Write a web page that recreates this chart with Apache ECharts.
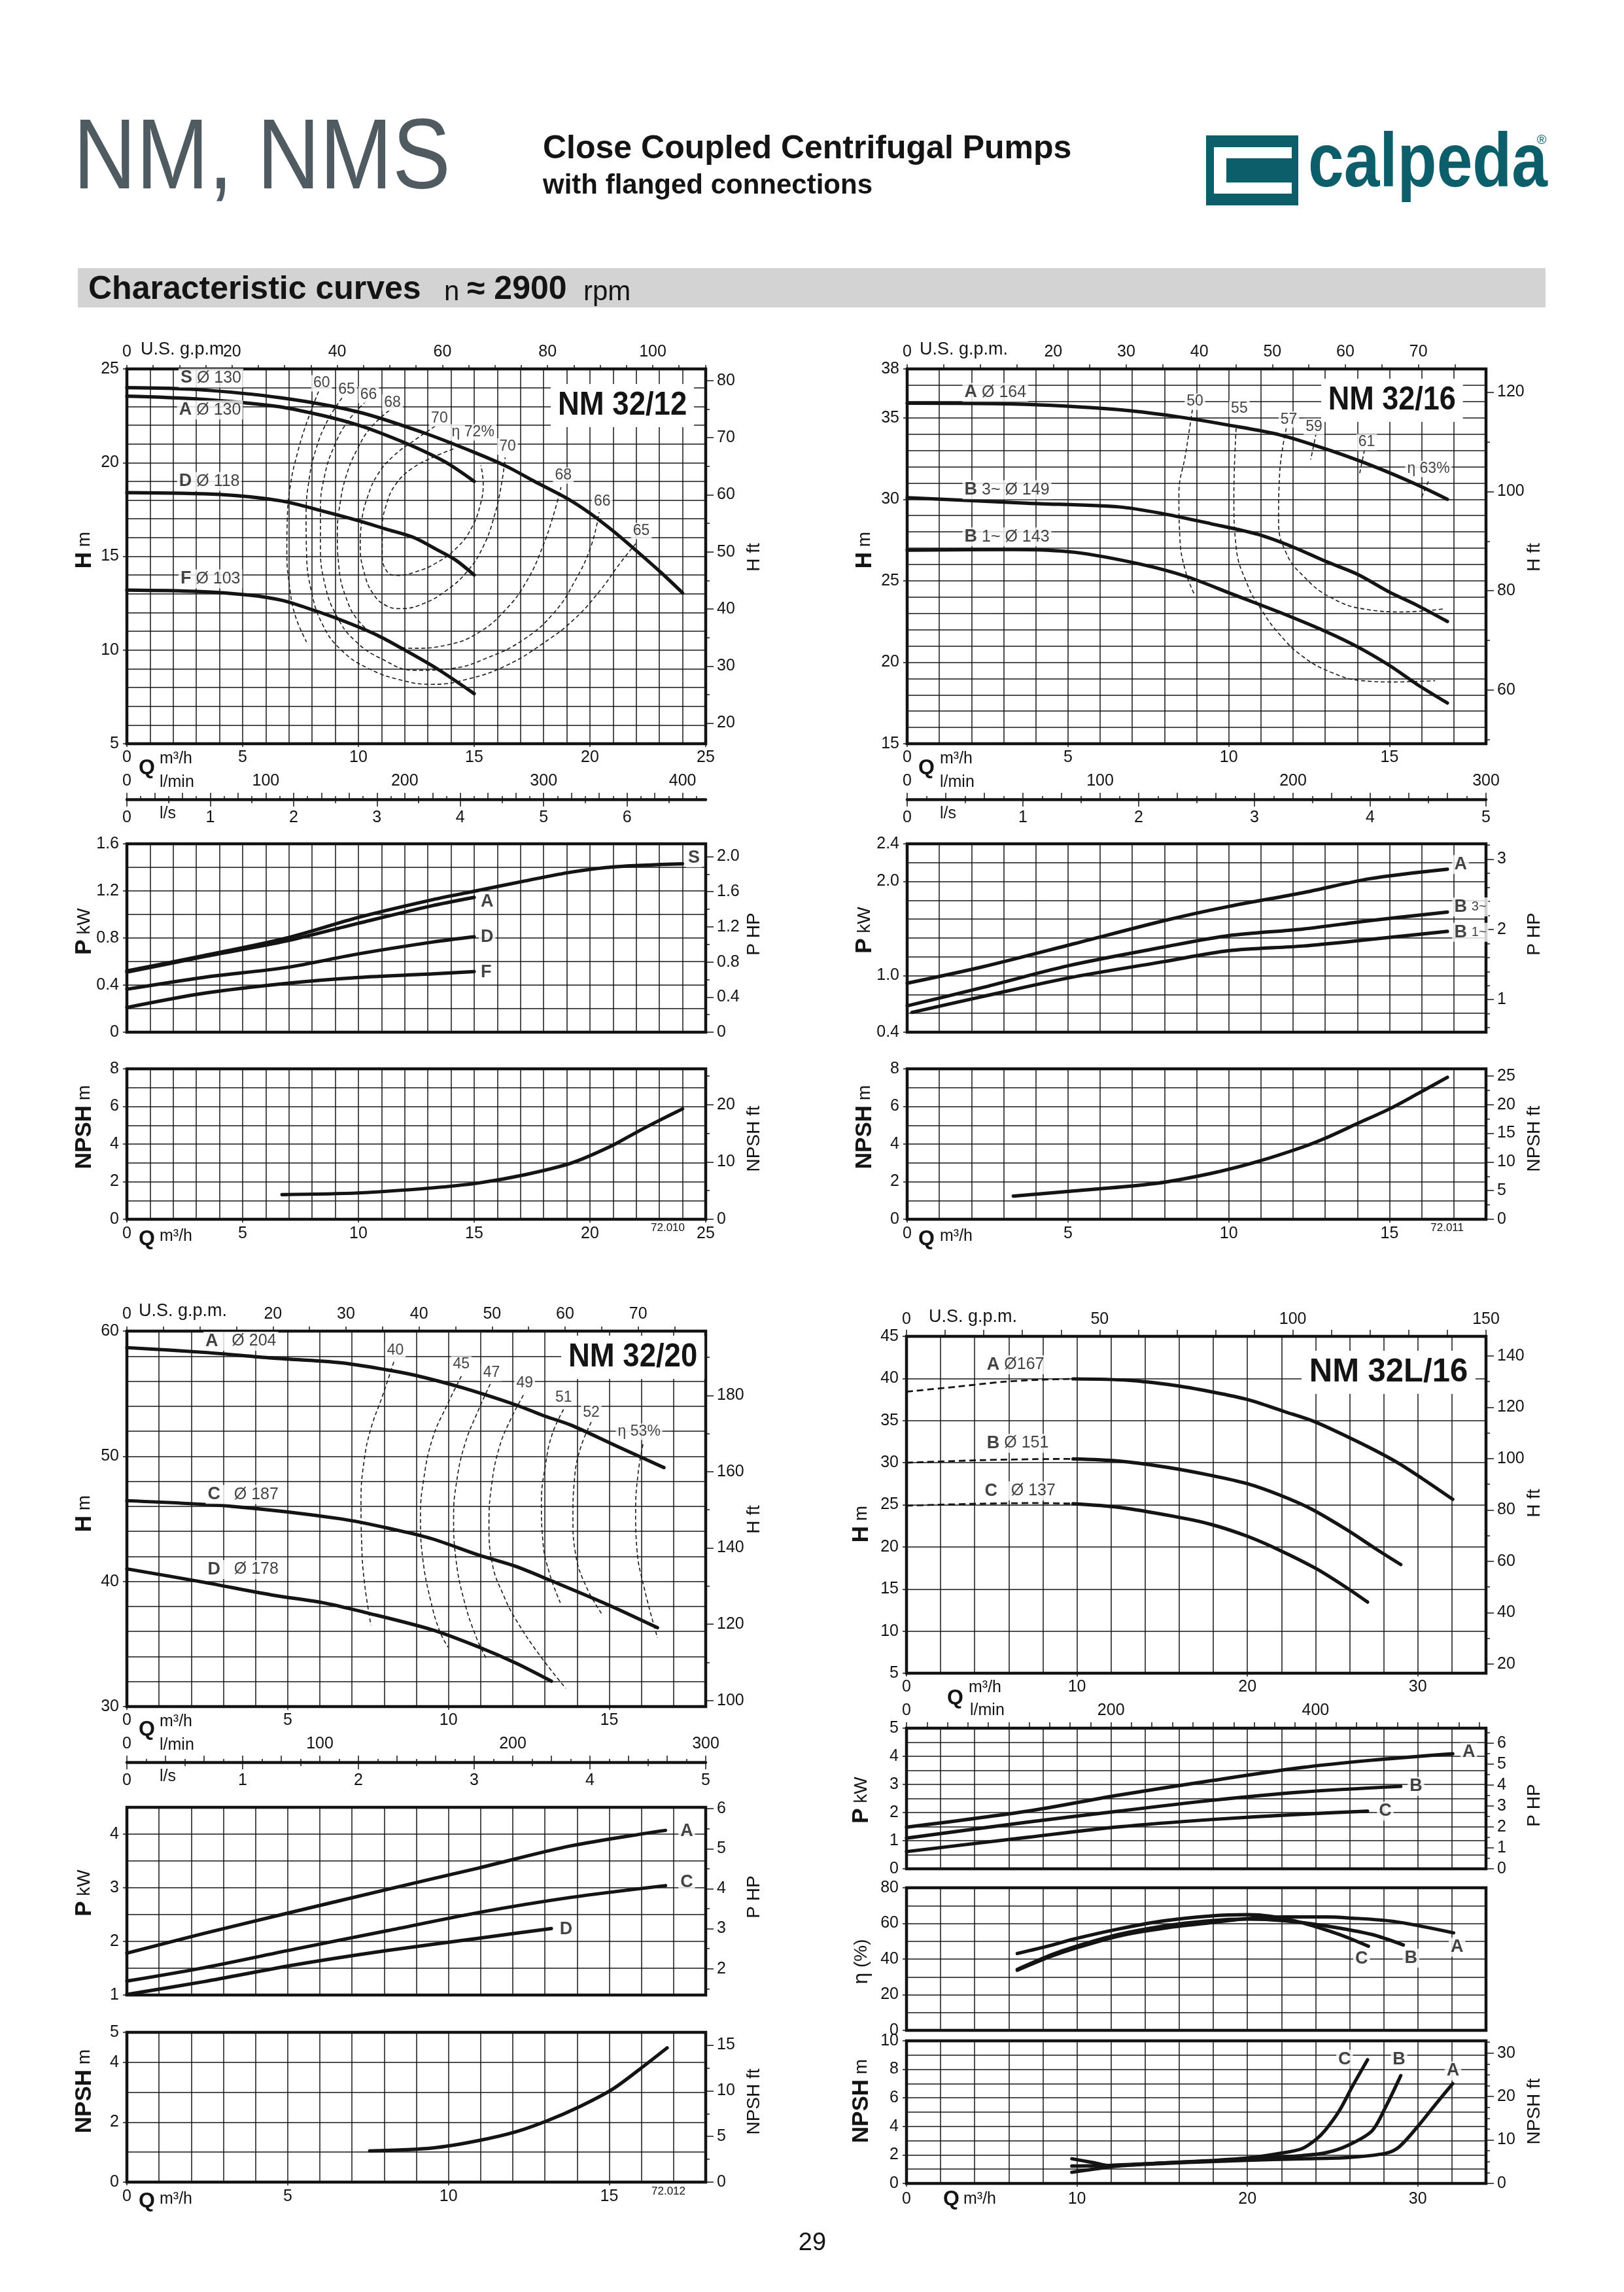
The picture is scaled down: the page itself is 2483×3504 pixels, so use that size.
<!DOCTYPE html>
<html>
<head>
<meta charset="utf-8">
<title>NM, NMS – Characteristic curves</title>
<script src="https://cdn.jsdelivr.net/npm/echarts@6.0.0/dist/echarts.min.js"></script>
<style>
html,body{margin:0;padding:0;background:#ffffff;}
#chart{width:2483px;height:3504px;}
</style>
</head>
<body>
<div id="chart"></div>
<script>
/* ================= DATA : NM 32/12 ================= */
const nm3212_H_S = [[0,24.0],[3,23.9],[6.7,23.45],[10,22.7],[12.8,21.6],[15,20.55],[16.4,19.8],[17.6,19.0],[19,18.1],[20,17.3],[21,16.35],[22,15.3],[23.1,14.1],[24,13.05]];
const nm3212_H_A = [[0,23.55],[3,23.4],[6.5,23.0],[8.5,22.5],[10,22.0],[11,21.56],[12.4,20.85],[13.8,20.0],[15,19.0]];
const nm3212_H_D = [[0,18.4],[4,18.3],[6.7,17.95],[8.5,17.4],[10,16.9],[11.2,16.45],[12.4,16.0],[13.4,15.35],[14.2,14.8],[15,14.0]];
const nm3212_H_F = [[0,13.2],[3,13.13],[5.3,12.93],[6.7,12.65],[8,12.15],[9.25,11.6],[10.8,10.8],[12,10.0],[13.4,9.0],[15,7.67]];
const nm3212_eta72 = [[14.10,20.73],[13.21,20.28],[12.32,19.69],[11.62,18.86],[11.23,17.85],[11.03,16.52],[11.03,15.18],[11.19,14.27],[11.62,13.98],[12.42,14.15],[13.41,14.68],[14.30,15.52],[14.89,16.52],[15.25,17.69],[15.39,18.86],[15.29,19.86]];
const nm3212_eta70 = [[13.31,21.94],[12.42,21.19],[11.52,20.36],[10.83,19.36],[10.40,18.19],[10.14,16.85],[10.08,15.52],[10.24,14.18],[10.63,13.01],[11.23,12.35],[11.82,12.21],[12.81,12.48],[13.80,13.18],[14.69,14.18],[15.39,15.52],[15.88,17.19],[16.18,18.86],[16.34,20.28]];
const nm3212_eta68 = [[11.33,22.78],[10.53,21.86],[9.94,20.69],[9.49,19.36],[9.21,17.85],[9.09,16.19],[9.15,14.52],[9.45,12.85],[10.04,11.51],[11.03,10.59],[12.32,10.09],[13.80,10.26],[15.19,10.93],[16.38,12.18],[17.27,13.68],[17.96,15.52],[18.46,17.35],[18.75,18.69]];
const nm3212_eta66 = [[10.34,23.28],[9.54,22.20],[8.95,20.86],[8.55,19.36],[8.36,17.52],[8.36,15.52],[8.55,13.51],[9.05,11.84],[9.84,10.51],[11.03,9.51],[12.42,8.92],[14.0,9.01],[15.58,9.59],[17.17,10.59],[18.46,12.01],[19.35,13.68],[20.04,15.52],[20.40,17.35]];
const nm3212_eta65 = [[9.29,23.45],[8.65,22.20],[8.16,20.69],[7.86,19.02],[7.74,17.19],[7.76,15.18],[7.96,13.18],[8.46,11.34],[9.25,10.01],[10.44,9.01],[12.02,8.34],[13.21,8.17],[14.79,8.47],[16.38,9.17],[17.96,10.34],[19.35,11.68],[20.44,13.18],[21.33,14.68],[21.98,15.68]];
const nm3212_eta60 = [[8.28,23.8],[7.76,22.11],[7.37,20.53],[7.07,18.86],[6.93,17.02],[6.91,15.18],[7.03,13.35],[7.27,11.84],[7.76,10.43]];
const nm3212_P_S = [[0,0.52],[3.3,0.65],[6.9,0.80],[10,0.975],[13.2,1.125],[15.2,1.205],[17.2,1.285],[19.2,1.36],[21.1,1.405],[24,1.43]];
const nm3212_P_A = [[0,0.51],[3.3,0.64],[6.9,0.775],[10,0.925],[13.2,1.075],[15,1.145]];
const nm3212_P_D = [[0,0.365],[3.3,0.465],[6.9,0.55],[10,0.665],[13.2,0.765],[15,0.81]];
const nm3212_P_F = [[0,0.21],[3.3,0.33],[6.9,0.415],[10,0.465],[13.2,0.495],[15,0.515]];
const nm3212_NPSH = [[6.7,1.31],[10,1.40],[13.2,1.67],[15.2,1.93],[17.2,2.37],[19.2,2.99],[20.9,3.88],[22,4.62],[23.1,5.32],[24,5.87]];
const nm3212_qTicks = [0,5,10,15,20,25];
const nm3212_hTicks = [5,10,15,20,25];
const nm3212_ftTicks = [20,30,40,50,60,70,80];
const nm3212_gpmTicks = [0,20,40,60,80,100];
const nm3212_lminTicks = [0,100,200,300,400];
const nm3212_lsTicks = [0,1,2,3,4,5,6];
const nm3212_pTicks = [0,0.4,0.8,1.2,1.6];
const nm3212_hpTicks = [0,0.4,0.8,1.2,1.6,2.0];
const nm3212_nTicks = [0,2,4,6,8];
const nm3212_nftTicks = [0,10,20];
const nm3212_curveTags = [[2.23,24.51,'S','Ø 130'],[2.17,22.81,'A','Ø 130'],[2.17,19.0,'D','Ø 118'],[2.23,13.8,'F','Ø 103']];
const nm3212_etaTags = [[8.41,24.23,'60'],[9.49,23.9,'65'],[10.44,23.61,'66'],[11.47,23.2,'68'],[13.5,22.36,'70'],[14.95,21.61,'η 72%'],[16.44,20.86,'70'],[18.85,19.31,'68'],[20.53,17.94,'66'],[22.22,16.35,'65']];
const nm3212_pTags = [[24.15,1.48,'S',''],[15.2,1.11,'A',''],[15.2,0.81,'D',''],[15.2,0.51,'F','']];

/* ================= DATA : NM 32/16 ================= */
const nm3216_H_A = [[0,35.9],[3.3,35.85],[6.6,35.5],[8.3,35.1],[10,34.55],[11.6,33.95],[13.15,33.0],[14.6,31.95],[15.85,30.9],[16.8,30.0]];
const nm3216_H_B3 = [[0,30.1],[3.75,29.76],[6.6,29.53],[8,29.1],[9.45,28.5],[10.9,27.85],[12,27.07],[13,26.2],[14,25.4],[15,24.3],[15.85,23.5],[16.8,22.5]];
const nm3216_H_B1 = [[0,26.88],[3.3,26.92],[5.2,26.75],[7.3,26.0],[8.7,25.25],[10.15,24.15],[11.6,23.05],[13,21.9],[14,20.95],[15,19.8],[15.85,18.65],[16.8,17.5]];
const nm3216_eta50 = [[8.87,35.5],[8.66,32.8],[8.45,30.3],[8.48,27.65],[8.66,25.55],[8.95,24.1]];
const nm3216_eta55 = [[10.23,34.36],[10.16,30.14],[10.23,27.07],[10.58,24.77],[11.01,23.24],[11.58,21.71],[12.29,20.37],[13.15,19.41],[14.15,18.87],[15.14,18.79],[16.42,18.87]];
const nm3216_eta57 = [[11.79,34.36],[11.58,31.48],[11.55,28.61],[11.79,26.69],[12.29,25.35],[13.15,24.0],[14.29,23.24],[15.43,23.09],[16.71,23.28]];
const nm3216_eta59 = [[12.72,34.07],[12.55,32.44]];
const nm3216_eta61 = [[14.22,33.02],[14.07,31.58]];
const nm3216_eta63 = [[16.21,31.1],[16.0,30.14]];
const nm3216_P_A = [[0,0.92],[2.3,1.09],[5.2,1.34],[8,1.585],[10,1.735],[12.3,1.88],[14.4,2.03],[16.8,2.13]];
const nm3216_P_B3 = [[0,0.68],[2.3,0.87],[5,1.105],[8,1.305],[10,1.425],[12.3,1.495],[14.4,1.585],[16.8,1.675]];
const nm3216_P_B1 = [[0.15,0.61],[2.3,0.775],[5,0.975],[8,1.15],[10,1.265],[12.3,1.315],[14.4,1.385],[16.8,1.47]];
const nm3216_NPSH = [[3.3,1.23],[5.2,1.51],[7.7,1.9],[9.45,2.44],[10.9,3.07],[12.3,3.84],[13,4.31],[14,5.09],[15,5.87],[15.85,6.65],[16.8,7.55]];
const nm3216_qTicks = [0,5,10,15];
const nm3216_hTicks = [15,20,25,30,35,38];
const nm3216_ftTicks = [60,80,100,120];
const nm3216_gpmTicks = [0,20,30,40,50,60,70];
const nm3216_lminTicks = [0,100,200,300];
const nm3216_lsTicks = [0,1,2,3,4,5];
const nm3216_pTicks = [0.4,1.0,2.0,2.4];
const nm3216_hpTicks = [1,2,3];
const nm3216_nTicks = [0,2,4,6,8];
const nm3216_nftTicks = [0,5,10,15,20,25];
const nm3216_curveTags = [[1.72,36.56,'A','Ø 164'],[1.72,30.58,'B','3~ Ø 149'],[1.72,27.69,'B','1~ Ø 143']];
const nm3216_etaTags = [[8.95,35.99,'50'],[10.33,35.55,'55'],[11.87,34.9,'57'],[12.65,34.46,'59'],[14.29,33.5,'61'],[16.21,31.87,'η 63%']];
const nm3216_pTags = [[16.95,2.18,'A',''],[16.95,1.73,'B','3~'],[16.95,1.46,'B','1~']];

/* ================= DATA : NM 32/20 ================= */
const nm3220_H_A = [[0,58.68],[2.4,58.3],[4.5,57.85],[6.65,57.47],[8.1,56.9],[8.95,56.48],[10.4,55.5],[12.1,54.1],[12.95,53.25],[13.8,52.5],[15.2,50.85],[16.7,49.1]];
const nm3220_H_C = [[0,46.45],[3.25,46.0],[6.65,45.0],[8.4,44.1],[9.5,43.4],[10.95,42.1],[12.1,41.2],[13.2,40.05],[14.95,38.15],[16.5,36.3]];
const nm3220_H_D = [[0,41.0],[2.4,39.93],[4.5,38.92],[6.1,38.3],[7.4,37.53],[9.5,36.13],[10.95,34.75],[12.1,33.47],[13.2,32.03]];
const nm3220_eta40 = [[8.30,57.54],[7.94,54.76],[7.59,52.22],[7.38,49.69],[7.28,46.39],[7.3,43.1],[7.38,40.06],[7.59,36.51]];
const nm3220_eta45 = [[10.4,56.4],[9.94,54.0],[9.51,51.46],[9.23,48.17],[9.13,45.13],[9.2,41.83],[9.44,38.54],[9.73,36.01],[9.99,34.74]];
const nm3220_eta47 = [[11.3,55.77],[10.94,53.74],[10.51,50.96],[10.25,47.91],[10.16,45.13],[10.23,41.83],[10.48,38.54],[10.87,35.5],[11.2,33.73]];
const nm3220_eta49 = [[12.33,54.88],[11.94,52.98],[11.58,50.7],[11.34,47.66],[11.26,44.62],[11.37,41.33],[11.73,38.79],[12.08,37.02],[12.8,34.23],[13.65,31.45]];
const nm3220_eta51 = [[13.58,53.74],[13.22,51.72],[13.01,49.18],[12.89,46.39],[12.94,43.1],[13.15,40.57],[13.48,38.29]];
const nm3220_eta52 = [[14.44,52.73],[14.08,50.45],[13.91,47.91],[13.87,45.13],[13.96,42.09],[14.29,39.55],[14.77,37.4]];
const nm3220_eta53 = [[16.05,50.96],[15.9,48.67],[15.82,45.63],[15.86,42.59],[16.08,39.55],[16.5,35.5]];
const nm3220_P_A = [[0,1.78],[2.4,2.15],[4.95,2.52],[8.1,2.97],[10.95,3.37],[13.8,3.78],[16.75,4.07]];
const nm3220_P_C = [[0,1.26],[2.4,1.51],[5.25,1.86],[8.1,2.2],[10.95,2.54],[13.8,2.82],[16.75,3.04]];
const nm3220_P_D = [[0,1.01],[2.4,1.25],[5.25,1.565],[8.1,1.83],[10.95,2.06],[13.2,2.24]];
const nm3220_NPSH = [[7.55,1.04],[9.5,1.14],[10.95,1.39],[12.1,1.68],[13.1,2.06],[14.1,2.53],[15.1,3.1],[15.95,3.77],[16.8,4.48]];
const nm3220_qTicks = [0,5,10,15];
const nm3220_hTicks = [30,40,50,60];
const nm3220_ftTicks = [100,120,140,160,180];
const nm3220_gpmTicks = [0,20,30,40,50,60,70];
const nm3220_lminTicks = [0,100,200,300];
const nm3220_lsTicks = [0,1,2,3,4,5];
const nm3220_pTicks = [1,2,3,4];
const nm3220_hpTicks = [2,3,4,5,6];
const nm3220_nTicks = [0,2,4,5];
const nm3220_nftTicks = [0,5,10,15];
const nm3220_curveTags = [[2.38,59.19,'A','  Ø 204'],[2.45,46.95,'C','  Ø 187'],[2.45,40.95,'D','  Ø 178']];
const nm3220_etaTags = [[8.35,58.43,'40'],[10.4,57.34,'45'],[11.34,56.66,'47'],[12.37,55.82,'49'],[13.58,54.68,'51'],[14.44,53.49,'52'],[15.93,51.97,'η 53%']];
const nm3220_pTags = [[17.15,4.05,'A',''],[17.15,3.1,'C',''],[13.4,2.23,'D','']];

/* ================= DATA : NM 32L/16 ================= */
const nm32L16_H_A = [[9.77,39.95],[13,39.78],[15.7,39.18],[17.85,38.43],[20,37.5],[22.15,36.08],[23.9,34.9],[25.9,33.05],[27.55,31.4],[28.9,29.9],[30.2,28.2],[32.05,25.65]];
const nm32L16_Hd_A = [[0,38.43],[3.04,39.04],[5.73,39.61],[7.89,39.85],[9.77,39.95]];
const nm32L16_H_B = [[9.77,30.45],[12.45,30.2],[15.15,29.5],[17.85,28.5],[20,27.5],[21.9,26.15],[23.8,24.45],[25.9,21.95],[27.55,19.75],[29,17.9]];
const nm32L16_Hd_B = [[0,30.0],[4.4,30.3],[7.6,30.42],[9.77,30.45]];
const nm32L16_H_C = [[9.77,25.13],[12.45,24.7],[15.7,23.62],[17.85,22.68],[20,21.26],[21.9,19.6],[24.05,17.4],[25.9,15.05],[27.05,13.45]];
const nm32L16_Hd_C = [[0,24.9],[4.4,25.13],[7.6,25.2],[9.77,25.13]];
const nm32L16_P_A = [[0,1.48],[7.1,2.05],[12.45,2.62],[17.85,3.13],[23.2,3.6],[27.3,3.86],[32.05,4.09]];
const nm32L16_P_B = [[0,1.09],[7.1,1.66],[12.45,2.05],[17.85,2.43],[23.2,2.73],[29,2.93]];
const nm32L16_P_C = [[0,0.61],[7.1,1.12],[12.45,1.49],[17.85,1.75],[23.2,1.94],[27.05,2.05]];
const nm32L16_E_A = [[6.5,33.7],[8.45,41.4],[9.8,45.8],[12.45,52.9],[15.15,57.4],[17.85,60.4],[20,62.7],[22.15,63.6],[24.6,63.6],[25.9,63.1],[28.6,61.1],[32.1,54.7]];
const nm32L16_E_B = [[6.5,34.2],[8.45,42.2],[9.8,46.7],[12.45,53.8],[15.15,58.6],[17.85,61.5],[20,62.4],[22.15,61.5],[24.6,58.6],[27.3,53.8],[29.15,47.9]];
const nm32L16_E_C = [[6.5,43.1],[8.45,47.6],[9.8,51.2],[12.45,56.9],[15.15,61.5],[17.85,64.2],[20,64.9],[21.35,64.0],[23.2,60.4],[24.85,55.6],[25.9,52.0],[27.1,47.2]];
const nm32L16_N_C = [[9.7,1.73],[11,1.45],[11.9,1.25],[15.15,1.44],[17.85,1.6],[20,1.78],[21.9,2.11],[23.2,2.44],[24.05,3.11],[24.6,3.78],[25.4,5.11],[26.2,6.89],[27.05,8.67]];
const nm32L16_N_B = [[9.7,1.22],[12,1.27],[15.15,1.44],[17.85,1.58],[20,1.72],[21.9,1.85],[23.2,1.95],[24.6,2.15],[25.9,2.67],[27.3,3.67],[28.1,5.33],[29,7.56]];
const nm32L16_N_A = [[9.7,0.78],[12.45,1.22],[15.15,1.4],[17.85,1.53],[20,1.62],[23.2,1.73],[25.9,1.82],[28.1,2.11],[28.9,2.56],[30,4.0],[31.05,5.56],[32.05,7.0]];
const nm32L16_qTicks = [0,10,20,30];
const nm32L16_hTicks = [5,10,15,20,25,30,35,40,45];
const nm32L16_ftTicks = [20,40,60,80,100,120,140];
const nm32L16_gpmTicks = [0,50,100,150];
const nm32L16_lminTicks = [0,200,400];
const nm32L16_pTicks = [0,1,2,3,4,5];
const nm32L16_hpTicks = [0,1,2,3,4,5,6];
const nm32L16_etaTicks = [0,20,40,60,80];
const nm32L16_nTicks = [0,2,4,6,8,10];
const nm32L16_nftTicks = [0,10,20,30];
const nm32L16_curveTags = [[4.6,41.63,'A','Ø167'],[4.6,32.31,'B','Ø 151'],[4.47,26.65,'C','  Ø 137']];
const nm32L16_pTags = [[32.5,4.14,'A',''],[29.4,2.93,'B',''],[27.6,2.05,'C','']];
const nm32L16_etaTags = [[32.3,46.7,'A'],[29.6,40.5,'B'],[26.7,40.0,'C']];
const nm32L16_nTags = [[25.7,8.71,'C'],[28.9,8.71,'B'],[32.06,7.89,'A']];

/* ================= BUILD ================= */
const INK = '#141414';
const TEAL = '#0b5e6a';
const FONT = "'Liberation Sans', Arial, Helvetica, sans-serif";
const LBL = {fontSize:25, color:INK, fontFamily:FONT};
const GRIDLINE = {color:'#161616', width:1.5};
const M2FT = 1/0.3048, KW2HP = 1/0.7457, Q2GPM = 4.40287;

const grids = [], xAxes = [], yAxes = [], series = [], graphics = [];

function steps(a, b, s, skip){
  const out = [];
  for (let i = 0; ; i++) {
    const v = +(a + i*s).toFixed(6);
    if (v > b + 1e-9) break;
    if (!skip || skip.indexOf(v) < 0) out.push(v);
  }
  return out;
}
function fmt1(v){ return Math.abs(v) < 1e-9 ? '0' : (+v).toFixed(1); }

function addGrid(l, t, w, h, show){
  grids.push({left:l, top:t, width:w, height:h, show:show, borderColor:'#111111', borderWidth:show?4.5:0,
    backgroundColor:'rgba(0,0,0,0)', containLabel:false, outerBoundsMode:'none'});
  return grids.length - 1;
}
/* axis that only carries ticks / labels (no grid lines) */
function tickAxis(dim, g, pos, min, max, ticks, len, labels, margin, fmt, lineShow, lineWidth){
  const ax = {type:'value', gridIndex:g, position:pos, min:min, max:max,
    axisLine:{show:!!lineShow, onZero:false, lineStyle:{color:INK, width:lineWidth||4}},
    axisTick:{show:ticks.length>0, customValues:ticks, length:len, lineStyle:{color:INK, width:1.5}},
    axisLabel:Object.assign({show:!!labels, customValues:labels||[], margin:margin||10, showMinLabel:true, showMaxLabel:true}, LBL, fmt?{formatter:fmt}:{}),
    splitLine:{show:false}};
  (dim === 'x' ? xAxes : yAxes).push(ax);
}
/* axis that only carries the grid lines (regular interval from min) */
function gridAxis(dim, g, pos, min, max, step){
  const list = dim === 'x' ? xAxes : yAxes;
  list.push({type:'value', gridIndex:g, position:pos, min:min, max:max, interval:step,
    axisLine:{show:false, onZero:false}, axisTick:{show:false}, axisLabel:{show:false},
    splitLine:{show:true, lineStyle:GRIDLINE}});
  return list.length - 1;
}
function makeChart(o){
  const g = addGrid(o.left, o.top, o.width, o.height, true);
  const xi = gridAxis('x', g, 'bottom', 0, o.qMax, o.qStep);
  if (o.xLabels) tickAxis('x', g, 'bottom', 0, o.qMax, o.xLabels, 5, o.xLabels, o.xMargin||9, null, false);
  const yi = gridAxis('y', g, 'left', o.yMin, o.yMax, o.yStep);
  tickAxis('y', g, 'left', o.yMin, o.yMax, o.yLabels, 6, o.yLabels, 12, o.yFmt, false);
  if (o.rFactor) {
    const mn = o.yMin*o.rFactor, mx = o.yMax*o.rFactor;
    tickAxis('y', g, 'right', mn, mx, o.rLabels, 12, o.rLabels, 17, o.rFmt, false);
    tickAxis('y', g, 'right', mn, mx, o.rShort, 6, null, 17, null, false);
  }
  return {g:g, xi:xi, yi:yi};
}
function gpmAxis(c, qMax, labels, step, len, gmax){
  const mx = gmax || qMax*Q2GPM;
  tickAxis('x', c.g, 'top', 0, mx, steps(0, mx, step), len, labels, 13, null, false);
}
function flowLine(left, width, y, qMax, lminLabels, lsLabels){
  const g = addGrid(left, y, width, 1, false);
  const lmax = qMax*1000/60, smax = qMax*1000/3600;
  tickAxis('x', g, 'top', 0, lmax, steps(0, lmax, 20), 10, lminLabels, 15, null, true, 4.5);
  tickAxis('x', g, 'top', 0, lmax, steps(10, lmax, 20), 5, null, 15, null, false);
  tickAxis('x', g, 'bottom', 0, smax, steps(0, smax, 1), 10, lsLabels, 15, null, false);
  tickAxis('x', g, 'bottom', 0, smax, steps(0.5, smax, 1), 5, null, 15, null, false);
  yAxes.push({type:'value', gridIndex:g, show:false, min:0, max:1});
}
function curve(c, data, extra){
  series.push(Object.assign({type:'line', xAxisIndex:c.xi, yAxisIndex:c.yi, data:data, showSymbol:false, symbol:'none',
    smooth:0.3, clip:true, silent:true, z:3, lineStyle:{color:INK, width:5.2, cap:'round', join:'round'}}, extra||{}));
}
function dashed(c, data){ curve(c, data, {z:2, smooth:0.45, lineStyle:{color:'#1a1a1a', width:1.6, type:[6,4]}}); }
function dashedThick(c, data){ curve(c, data, {z:2, smooth:0.3, lineStyle:{color:INK, width:2.8, type:[10,6]}}); }
const RICH = {bd:{fontWeight:'bold', fontSize:27, color:INK, fontFamily:FONT}, sm:{fontSize:20, color:INK, fontFamily:FONT}};
function tag(c, q, v, text, pos, fs){
  series.push({type:'scatter', xAxisIndex:c.xi, yAxisIndex:c.yi, data:[[q, v]], symbolSize:0, silent:true, z:6,
    label:{show:true, position:pos||'right', distance:0, formatter:function(){ return text; }, fontSize:fs||25, color:INK, fontFamily:FONT,
      backgroundColor:'#ffffff', padding:[1,3], rich:RICH}});
}
function curveTags(c, list){ list.forEach(t => tag(c, t[0], t[1], '{bd|' + t[2] + '} ' + t[3], 'right')); }
function etaTags(c, list){ list.forEach(t => tag(c, t[0], t[1], t[2], 'inside', 23)); }
function letterTags(c, list, pos){ list.forEach(t => tag(c, t[0], t[1], '{bd|' + t[2] + '}' + (t[3] ? ' {sm|' + t[3] + '}' : ''), pos||'right')); }

function txt(x, y, text, o){
  o = o || {};
  graphics.push({type:'text', x:x, y:y, rotation:o.rot||0, scaleX:o.sx||1, z:100, silent:true,
    style:Object.assign({text:text, fill:o.color||INK, fontSize:o.fs||25, fontWeight:o.fw||'normal', fontFamily:FONT,
      align:o.align||'left', verticalAlign:'middle', textAlign:o.align||'left', textVerticalAlign:'middle'}, o.style||{})});
}
const NAME_RICH = {bd:{fontSize:35, fontWeight:'bold', fontFamily:FONT, fill:INK, color:INK},
  u:{fontSize:28, fontFamily:FONT, fill:INK, color:INK}, e:{fontSize:32, fontFamily:FONT, fill:INK, color:INK}};
function vname(x, y, text){ txt(x, y, text, {rot:Math.PI/2, fs:28, align:'center', style:{rich:NAME_RICH}}); }
function rect(x, y, w, h, fill){ graphics.push({type:'rect', z:99, silent:true, shape:{x:x, y:y, width:w, height:h}, style:{fill:fill}}); }

/* ---------- header ---------- */
txt(112, 246, 'NM, NMS', {fs:153, sx:0.87, color:'#4f5a61'});
txt(830, 228, 'Close Coupled Centrifugal Pumps', {fs:50, fw:'bold'});
txt(830, 284, 'with flanged connections', {fs:42, fw:'bold'});
rect(1844, 207, 141, 107, TEAL);
rect(1856, 225, 119, 71, '#ffffff');
rect(1875, 242, 100, 37, TEAL);
txt(2000, 253, 'calpeda', {fs:117, fw:'bold', sx:0.84, color:TEAL});
txt(2357, 214, '®', {fs:20, color:TEAL, align:'center'});
rect(119, 410, 2244, 60, '#d3d3d3');
txt(135, 443, 'Characteristic curves', {fs:50, fw:'bold'});
txt(679, 447, 'n', {fs:42});
txt(714, 443, '≈ 2900', {fs:50, fw:'bold'});
txt(892, 447, 'rpm', {fs:42});
txt(1242, 3430, '29', {fs:38, align:'center'});

/* ---------- panel 1 : NM 32/12 ---------- */
(function(){
  const L = 194, W = 885, Q = 25;
  const cH = makeChart({left:L, top:564, width:W, height:573, qMax:Q, qStep:1, xLabels:nm3212_qTicks, xMargin:9,
    yMin:5, yMax:25, yStep:1, yLabels:nm3212_hTicks, rFactor:M2FT, rLabels:nm3212_ftTicks, rShort:steps(20, 80, 5, nm3212_ftTicks)});
  gpmAxis(cH, Q, nm3212_gpmTicks, 5, 6);
  flowLine(L, W, 1222, Q, nm3212_lminTicks, nm3212_lsTicks);
  const cP = makeChart({left:L, top:1290, width:W, height:288, qMax:Q, qStep:1, xLabels:null,
    yMin:0, yMax:1.6, yStep:0.2, yLabels:nm3212_pTicks, yFmt:fmt1, rFactor:KW2HP, rLabels:nm3212_hpTicks, rFmt:fmt1, rShort:steps(0.2, 2.14, 0.4)});
  const cN = makeChart({left:L, top:1634, width:W, height:230, qMax:Q, qStep:1, xLabels:nm3212_qTicks, xMargin:10,
    yMin:0, yMax:8, yStep:1, yLabels:nm3212_nTicks, rFactor:M2FT, rLabels:nm3212_nftTicks, rShort:steps(5, 26.2, 10)});
  [nm3212_eta72, nm3212_eta70, nm3212_eta68, nm3212_eta66, nm3212_eta65, nm3212_eta60].forEach(d => dashed(cH, d));
  [nm3212_H_S, nm3212_H_A, nm3212_H_D, nm3212_H_F].forEach(d => curve(cH, d));
  curveTags(cH, nm3212_curveTags);
  etaTags(cH, nm3212_etaTags);
  [nm3212_P_S, nm3212_P_A, nm3212_P_D, nm3212_P_F].forEach(d => curve(cP, d));
  letterTags(cP, nm3212_pTags);
  curve(cN, nm3212_NPSH);
  txt(215, 535, 'U.S. g.p.m', {fs:27});
  txt(212, 1174, 'Q', {fs:32, fw:'bold'}); txt(244, 1160, 'm³/h'); txt(244, 1196, 'l/min'); txt(244, 1244, 'l/s');
  txt(212, 1894, 'Q', {fs:32, fw:'bold'}); txt(244, 1890, 'm³/h');
  txt(1047, 1877, '72.010', {fs:17, align:'right'});
  txt(842, 620, 'NM 32/12', {fs:50, fw:'bold', sx:0.91, style:{backgroundColor:'#ffffff', padding:[8,12]}});
  vname(129, 841, '{bd|H} {u|m}'); vname(129, 1424, '{bd|P} {u|kW}'); vname(129, 1723, '{bd|NPSH} {u|m}');
  vname(1153, 852, 'H ft'); vname(1153, 1428, 'P HP'); vname(1153, 1741, 'NPSH ft');
})();

/* ---------- panel 2 : NM 32/16 ---------- */
(function(){
  const L = 1387, W = 885, Q = 18;
  const cH = makeChart({left:L, top:564, width:W, height:573, qMax:Q, qStep:1, xLabels:nm3216_qTicks, xMargin:9,
    yMin:15, yMax:38, yStep:1, yLabels:nm3216_hTicks, rFactor:M2FT, rLabels:nm3216_ftTicks, rShort:steps(50, 124, 20)});
  gpmAxis(cH, Q, nm3216_gpmTicks, 5, 7);
  flowLine(L, W, 1222, Q, nm3216_lminTicks, nm3216_lsTicks);
  const cP = makeChart({left:L, top:1290, width:W, height:288, qMax:Q, qStep:1, xLabels:null,
    yMin:0.4, yMax:2.4, yStep:0.2, yLabels:nm3216_pTicks, yFmt:fmt1, rFactor:KW2HP, rLabels:nm3216_hpTicks, rShort:steps(0.6, 3.21, 0.2, nm3216_hpTicks)});
  const cN = makeChart({left:L, top:1634, width:W, height:230, qMax:Q, qStep:1, xLabels:nm3216_qTicks, xMargin:10,
    yMin:0, yMax:8, yStep:1, yLabels:nm3216_nTicks, rFactor:M2FT, rLabels:nm3216_nftTicks, rShort:steps(2.5, 26.2, 5)});
  [nm3216_eta50, nm3216_eta55, nm3216_eta57, nm3216_eta59, nm3216_eta61, nm3216_eta63].forEach(d => dashed(cH, d));
  [nm3216_H_A, nm3216_H_B3, nm3216_H_B1].forEach(d => curve(cH, d));
  curveTags(cH, nm3216_curveTags);
  etaTags(cH, nm3216_etaTags);
  [nm3216_P_A, nm3216_P_B3, nm3216_P_B1].forEach(d => curve(cP, d));
  letterTags(cP, nm3216_pTags);
  curve(cN, nm3216_NPSH);
  txt(1406, 535, 'U.S. g.p.m.', {fs:27});
  txt(1404, 1174, 'Q', {fs:32, fw:'bold'}); txt(1437, 1160, 'm³/h'); txt(1437, 1196, 'l/min'); txt(1437, 1244, 'l/s');
  txt(1404, 1894, 'Q', {fs:32, fw:'bold'}); txt(1437, 1890, 'm³/h');
  txt(2238, 1877, '72.011', {fs:17, align:'right'});
  txt(2020, 612, 'NM 32/16', {fs:50, fw:'bold', sx:0.9, style:{backgroundColor:'#ffffff', padding:[8,12]}});
  vname(1322, 841, '{bd|H} {u|m}'); vname(1322, 1422, '{bd|P} {u|kW}'); vname(1322, 1723, '{bd|NPSH} {u|m}');
  vname(2346, 852, 'H ft'); vname(2346, 1428, 'P HP'); vname(2346, 1741, 'NPSH ft');
})();

/* ---------- panel 3 : NM 32/20 ---------- */
(function(){
  const L = 194, W = 885, Q = 18;
  const cH = makeChart({left:L, top:2035, width:W, height:574, qMax:Q, qStep:1, xLabels:nm3220_qTicks, xMargin:9,
    yMin:30, yMax:60, yStep:2, yLabels:nm3220_hTicks, rFactor:M2FT, rLabels:nm3220_ftTicks, rShort:steps(110, 196, 20)});
  gpmAxis(cH, Q, nm3220_gpmTicks, 5, 7);
  flowLine(L, W, 2694, Q, nm3220_lminTicks, nm3220_lsTicks);
  const cP = makeChart({left:L, top:2763, width:W, height:287, qMax:Q, qStep:1, xLabels:null,
    yMin:1, yMax:4.5, yStep:0.5, yLabels:nm3220_pTicks, rFactor:KW2HP, rLabels:nm3220_hpTicks, rShort:steps(1.5, 6.03, 1)});
  const cN = makeChart({left:L, top:3107, width:W, height:229, qMax:Q, qStep:1, xLabels:nm3220_qTicks, xMargin:10,
    yMin:0, yMax:5, yStep:1, yLabels:nm3220_nTicks, rFactor:M2FT, rLabels:nm3220_nftTicks, rShort:steps(2.5, 16.4, 5)});
  [nm3220_eta40, nm3220_eta45, nm3220_eta47, nm3220_eta49, nm3220_eta51, nm3220_eta52, nm3220_eta53].forEach(d => dashed(cH, d));
  [nm3220_H_A, nm3220_H_C, nm3220_H_D].forEach(d => curve(cH, d));
  curveTags(cH, nm3220_curveTags);
  etaTags(cH, nm3220_etaTags);
  [nm3220_P_A, nm3220_P_C, nm3220_P_D].forEach(d => curve(cP, d));
  letterTags(cP, nm3220_pTags);
  curve(cN, nm3220_NPSH);
  txt(212, 2005, 'U.S. g.p.m.', {fs:27});
  txt(212, 2644, 'Q', {fs:32, fw:'bold'}); txt(244, 2632, 'm³/h'); txt(244, 2668, 'l/min'); txt(244, 2716, 'l/s');
  txt(212, 3365, 'Q', {fs:32, fw:'bold'}); txt(244, 3362, 'm³/h');
  txt(1048, 3350, '72.012', {fs:17, align:'right'});
  txt(858, 2075, 'NM 32/20', {fs:50, fw:'bold', sx:0.91, style:{backgroundColor:'#ffffff', padding:[8,12]}});
  vname(129, 2314, '{bd|H} {u|m}'); vname(129, 2894, '{bd|P} {u|kW}'); vname(129, 3197, '{bd|NPSH} {u|m}');
  vname(1153, 2323, 'H ft'); vname(1153, 2900, 'P HP'); vname(1153, 3213, 'NPSH ft');
})();

/* ---------- panel 4 : NM 32L/16 ---------- */
(function(){
  const L = 1386, W = 886, Q = 34;
  const cH = makeChart({left:L, top:2043, width:W, height:515, qMax:Q, qStep:2, xLabels:nm32L16_qTicks, xMargin:9,
    yMin:5, yMax:45, yStep:5, yLabels:nm32L16_hTicks, rFactor:M2FT, rLabels:nm32L16_ftTicks, rShort:steps(30, 147, 20)});
  gpmAxis(cH, Q, nm32L16_gpmTicks, 10, 10, 150);
  const cP = makeChart({left:L, top:2642, width:W, height:215, qMax:Q, qStep:2, xLabels:null,
    yMin:0, yMax:5, yStep:0.5, yLabels:nm32L16_pTicks, rFactor:KW2HP, rLabels:nm32L16_hpTicks, rShort:steps(0.5, 6.7, 1)});
  tickAxis('x', cP.g, 'top', 0, Q*1000/60, steps(0, Q*1000/60, 20), 9, nm32L16_lminTicks, 14, null, false);
  const cE = makeChart({left:L, top:2886, width:W, height:218, qMax:Q, qStep:2, xLabels:null,
    yMin:0, yMax:80, yStep:10, yLabels:nm32L16_etaTicks});
  const cN = makeChart({left:L, top:3120, width:W, height:218, qMax:Q, qStep:2, xLabels:nm32L16_qTicks, xMargin:12,
    yMin:0, yMax:10, yStep:1, yLabels:nm32L16_nTicks, rFactor:M2FT, rLabels:nm32L16_nftTicks, rShort:steps(2.5, 32.8, 2.5, nm32L16_nftTicks)});
  [nm32L16_Hd_A, nm32L16_Hd_B, nm32L16_Hd_C].forEach(d => dashedThick(cH, d));
  [nm32L16_H_A, nm32L16_H_B, nm32L16_H_C].forEach(d => curve(cH, d));
  curveTags(cH, nm32L16_curveTags);
  [nm32L16_P_A, nm32L16_P_B, nm32L16_P_C].forEach(d => curve(cP, d));
  letterTags(cP, nm32L16_pTags);
  [nm32L16_E_A, nm32L16_E_B, nm32L16_E_C].forEach(d => curve(cE, d));
  letterTags(cE, nm32L16_etaTags, 'inside');
  [nm32L16_N_A, nm32L16_N_B, nm32L16_N_C].forEach(d => curve(cN, d));
  letterTags(cN, nm32L16_nTags, 'inside');
  txt(1420, 2014, 'U.S. g.p.m.', {fs:27});
  txt(1448, 2596, 'Q', {fs:32, fw:'bold'}); txt(1481, 2580, 'm³/h'); txt(1483, 2615, 'l/min');
  txt(1442, 3362, 'Q', {fs:32, fw:'bold'}); txt(1473, 3362, 'm³/h');
  txt(1990, 2098, 'NM 32L/16', {fs:50, fw:'bold', sx:0.98, style:{backgroundColor:'#ffffff', padding:[8,12]}});
  vname(1317, 2330, '{bd|H} {u|m}'); vname(1317, 2752, '{bd|P} {u|kW}'); vname(1317, 2999, '{e|η} {u|(%)}'); vname(1317, 3212, '{bd|NPSH} {u|m}');
  vname(2346, 2298, 'H ft'); vname(2346, 2760, 'P HP'); vname(2346, 3228, 'NPSH ft');
})();

const chart = echarts.init(document.getElementById('chart'), null, {renderer:'canvas', width:2483, height:3504});
chart.setOption({
  animation:false,
  backgroundColor:'#ffffff',
  textStyle:{fontFamily:FONT},
  grid:grids,
  xAxis:xAxes,
  yAxis:yAxes,
  series:series,
  graphic:{elements:graphics}
});
</script>
</body>
</html>
